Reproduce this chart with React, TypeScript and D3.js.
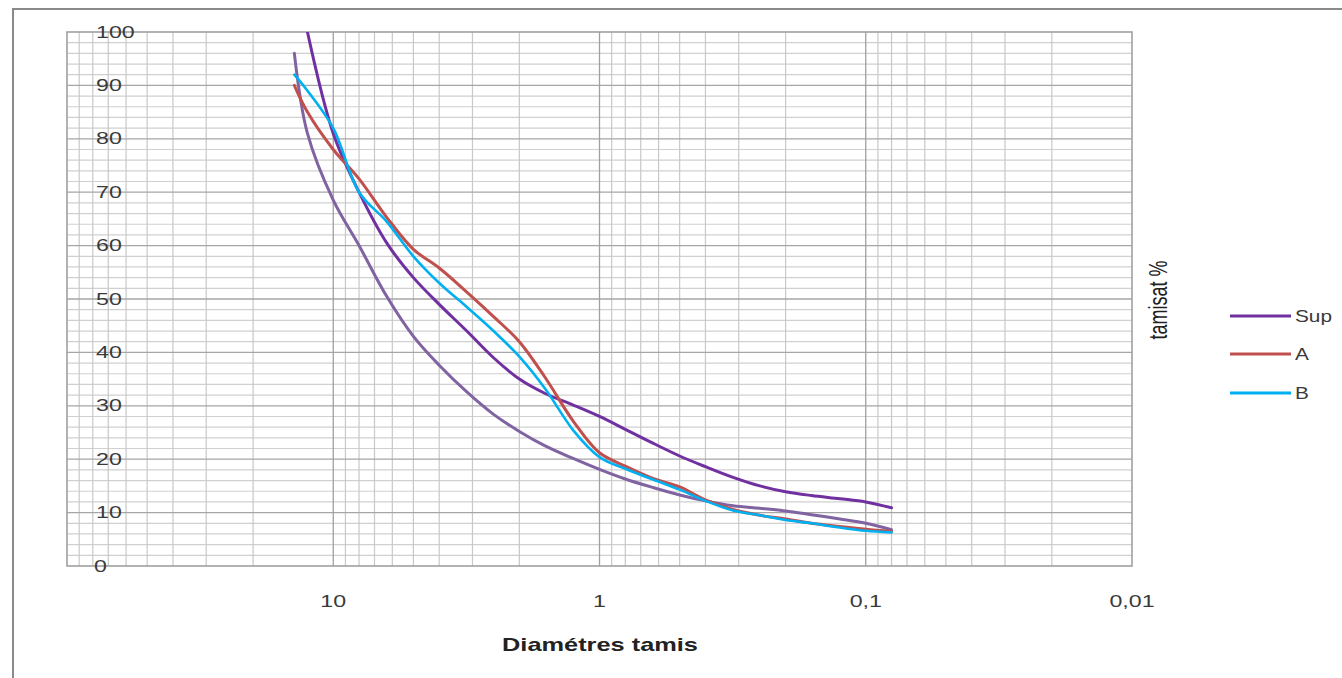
import React from "react";
import * as d3 from "d3";

// ---- data ----
const sieves = [14, 12.5, 10, 8, 6.3, 5, 4, 3.15, 2.5, 2, 1.6, 1.25, 1, 0.8, 0.63, 0.5, 0.4, 0.315, 0.25, 0.2, 0.16, 0.125, 0.1, 0.08];
const supValues = [null, 100, 81, 70, 60.5, 54, 49, 44, 39, 35, 32.3, 30.1, 28, 25.6, 23, 20.6, 18.6, 16.6, 15.0, 13.9, 13.2, 12.6, 12.0, 10.9];
const aValues = [90, 85, 78, 72.5, 65.3, 59.3, 55.8, 51.3, 46.7, 42, 35.3, 27, 21.2, 18.7, 16.4, 14.8, 12.4, 10.6, 9.5, 8.8, 8.0, 7.4, 6.9, 6.5];
const bValues = [92, 89, 82, 70, 64.5, 58, 53, 48.5, 44, 39.2, 33.2, 25.3, 20.4, 18.2, 16.2, 14.3, 12.2, 10.4, 9.5, 8.6, 8.0, 7.2, 6.6, 6.3];
const infValues = [96, 81, 68.5, 60, 50.5, 43, 37.6, 32.6, 28.4, 25.2, 22.5, 20.1, 18.1, 16.3, 14.7, 13.3, 12.2, 11.3, 10.8, 10.3, 9.6, 8.8, 8.0, 6.8];
const seriesNames = ["Sup", "A", "B", "Inf"];
const seriesColors = ["#7030A0", "#C0504D", "#00B0F0", "#8064A2"];
const legendNames = ["Sup", "A", "B"];
const xTickValues = [10, 1, 0.1, 0.01];
const xTickLabels = ["10", "1", "0,1", "0,01"];
const yTickValues = [0, 10, 20, 30, 40, 50, 60, 70, 80, 90, 100];
const xTitle = "Diamétres tamis";
const yTitle = "tamisat %";

const W = 1342, H = 678;
const L = 67, R = 1132, T = 32, B = 566;

export default function App() {
  const x = d3.scaleLog().domain([100, 0.01]).range([L, R]);
  const y = d3.scaleLinear().domain([0, 100]).range([B, T]);

  const allValues = [supValues, aValues, bValues, infValues];
  const series = allValues.map((vals, i) => ({
    name: seriesNames[i],
    color: seriesColors[i],
    pts: sieves.map((s, j) => ({ s, v: vals[j] as number | null })),
  }));

  const line = d3
    .line<{ s: number; v: number | null }>()
    .defined((d) => d.v != null)
    .x((d) => x(d.s))
    .y((d) => y(d.v as number))
    .curve(d3.curveCatmullRom.alpha(0.5));

  // minor vertical ticks
  const minorX: number[] = [];
  [0.01, 0.1, 1, 10].forEach((dec) => {
    for (let k = 2; k <= 9; k++) minorX.push(dec * k);
  });
  const majorX = [10, 1, 0.1];
  const minorY: number[] = d3.range(2, 100, 2).filter((v) => v % 10 !== 0);
  const majorY = d3.range(10, 100, 10);

  const txt = "#3a3a3a";
  const font = "'Liberation Sans', Arial, sans-serif";
  const legendY = [316, 354, 393];

  return (
    <svg width={W} height={H} style={{ position: "absolute", left: 0, top: 0, background: "#fff" }}>
      <defs>
        <clipPath id="plotclip">
          <rect x={L} y={T} width={R - L} height={B - T} />
        </clipPath>
      </defs>
      <rect x={13} y={9} width={W + 20} height={H + 20} fill="#fff" stroke="#8a8a8a" strokeWidth={2} />

      {/* grid */}
      {minorY.map((v) => (
        <line key={"my" + v} x1={L} x2={R} y1={y(v)} y2={y(v)} stroke="#d0d0d0" strokeWidth={1.2} />
      ))}
      {minorX.map((v) => (
        <line key={"mx" + v} x1={x(v)} x2={x(v)} y1={T} y2={B} stroke="#c8c8c8" strokeWidth={1.2} />
      ))}
      {majorY.map((v) => (
        <line key={"My" + v} x1={L} x2={R} y1={y(v)} y2={y(v)} stroke="#a6a6a6" strokeWidth={1.3} />
      ))}
      {majorX.map((v) => (
        <line key={"Mx" + v} x1={x(v)} x2={x(v)} y1={T} y2={B} stroke="#a0a0a0" strokeWidth={1.3} />
      ))}
      <rect x={L} y={T} width={R - L} height={B - T} fill="none" stroke="#a0a0a0" strokeWidth={1.6} />

      {/* y tick labels */}
      {yTickValues.map((v) => (
        <text
          key={"yt" + v}
          transform={`translate(${v === 0 ? 94 : 96},${y(v)}) scale(1.45,1)`}
          dominantBaseline="central"
          fontFamily={font}
          fontSize={16}
          fill={txt}
        >
          {v}
        </text>
      ))}

      {/* x tick labels */}
      {xTickValues.map((v, i) => (
        <text
          key={"xt" + v}
          transform={`translate(${x(v)},${601}) scale(1.45,1)`}
          textAnchor="middle"
          dominantBaseline="central"
          fontFamily={font}
          fontSize={16}
          fill={txt}
        >
          {xTickLabels[i]}
        </text>
      ))}

      {/* series */}
      <g clipPath="url(#plotclip)">
        {[3, 0, 1, 2].map((i) => (
          <path
            key={series[i].name}
            d={line(series[i].pts) || ""}
            fill="none"
            stroke={series[i].color}
            strokeWidth={i === 2 ? 2.6 : 3}
            strokeLinejoin="round"
            strokeLinecap="round"
          />
        ))}
      </g>

      {/* axis titles */}
      <text
        transform={`translate(${600},${645}) scale(1.45,1)`}
        textAnchor="middle"
        dominantBaseline="central"
        fontFamily={font}
        fontWeight="bold"
        fontSize={17.5}
        fill="#222"
      >
        {xTitle}
      </text>
      <text
        transform={`translate(${1158},${300}) scale(1.45,1) rotate(-90)`}
        textAnchor="middle"
        dominantBaseline="central"
        fontFamily={font}
        fontSize={18}
        fill="#222"
      >
        {yTitle}
      </text>

      {/* legend */}
      {legendNames.map((n, i) => (
        <g key={"lg" + n}>
          <line x1={1230} x2={1291} y1={legendY[i]} y2={legendY[i]} stroke={seriesColors[i]} strokeWidth={3} />
          <text
            transform={`translate(${1295},${legendY[i]}) scale(1.3,1)`}
            dominantBaseline="central"
            fontFamily={font}
            fontSize={16}
            fill={txt}
          >
            {n}
          </text>
        </g>
      ))}
    </svg>
  );
}
